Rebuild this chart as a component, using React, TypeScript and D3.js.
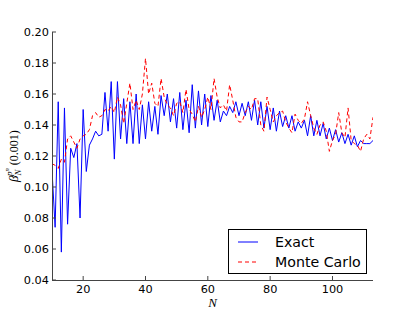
import React from "react";
import * as d3 from "d3";

// N runs 10..113, one value per N
const nValues = d3.range(10, 114);

const exact = [
  0.111, 0.074, 0.155, 0.058, 0.151, 0.076, 0.125, 0.119, 0.128, 0.080,
  0.150, 0.110, 0.127, 0.131, 0.136, 0.133, 0.134, 0.161, 0.136, 0.168,
  0.118, 0.168, 0.131, 0.157, 0.128, 0.155, 0.128, 0.160, 0.128, 0.153,
  0.131, 0.155, 0.136, 0.152, 0.134, 0.159, 0.146, 0.160, 0.142, 0.157,
  0.138, 0.161, 0.137, 0.156, 0.135, 0.166, 0.138, 0.162, 0.140, 0.160,
  0.139, 0.159, 0.143, 0.156, 0.142, 0.149, 0.146, 0.152, 0.148, 0.155,
  0.146, 0.154, 0.146, 0.155, 0.143, 0.156, 0.140, 0.155, 0.138, 0.152,
  0.137, 0.151, 0.136, 0.149, 0.139, 0.146, 0.138, 0.146, 0.136, 0.142,
  0.138, 0.143, 0.133, 0.146, 0.133, 0.143, 0.133, 0.141, 0.131, 0.138,
  0.130, 0.137, 0.129, 0.135, 0.128, 0.134, 0.127, 0.133, 0.126, 0.130,
  0.128, 0.128, 0.128, 0.130,
];

const monteCarlo = [
  0.115, 0.114, 0.112, 0.118, 0.116, 0.131, 0.133, 0.129, 0.125, 0.131,
  0.133, 0.134, 0.137, 0.146, 0.148, 0.145, 0.146, 0.150, 0.149, 0.152,
  0.148, 0.158, 0.153, 0.141, 0.154, 0.167, 0.150, 0.156, 0.150, 0.160,
  0.183, 0.160, 0.167, 0.154, 0.152, 0.170, 0.158, 0.153, 0.151, 0.146,
  0.154, 0.155, 0.148, 0.163, 0.150, 0.147, 0.142, 0.152, 0.145, 0.150,
  0.158, 0.150, 0.170, 0.158, 0.151, 0.153, 0.149, 0.166, 0.156, 0.145,
  0.142, 0.142, 0.148, 0.152, 0.150, 0.157, 0.157, 0.140, 0.136, 0.158,
  0.150, 0.142, 0.146, 0.148, 0.149, 0.142, 0.138, 0.135, 0.147, 0.143,
  0.141, 0.144, 0.155, 0.146, 0.138, 0.134, 0.140, 0.142, 0.136, 0.123,
  0.130, 0.134, 0.148, 0.135, 0.132, 0.151, 0.130, 0.128, 0.127, 0.123,
  0.131, 0.134, 0.131, 0.145,
];

const xTicks = [20, 40, 60, 80, 100];
const yTicks = [0.04, 0.06, 0.08, 0.1, 0.12, 0.14, 0.16, 0.18, 0.2];

const W = 415;
const H = 312;
const left = 52, right = 373, top = 32, bottom = 280;

export default function App() {
  const x = d3.scaleLinear().domain([10, 113]).range([left, right]);
  const y = d3.scaleLinear().domain([0.04, 0.2]).range([bottom, top]);

  const line = d3
    .line<number>()
    .x((_, i) => x(nValues[i]))
    .y((d) => y(d));

  const sans = "DejaVu Sans, sans-serif";
  const serif = "Liberation Serif, DejaVu Serif, serif";

  return (
    <svg
      width={W}
      height={H}
      style={{ position: "absolute", left: 0, top: 0, background: "#fff" }}
    >
      <defs>
        <clipPath id="plot">
          <rect x={left} y={top} width={right - left} height={bottom - top} />
        </clipPath>
      </defs>

      {/* series */}
      <g clipPath="url(#plot)">
        <path d={line(exact) || ""} fill="none" stroke="#0000ff" strokeWidth={1} />
        <path
          d={line(monteCarlo) || ""}
          fill="none"
          stroke="#ff0000"
          strokeWidth={1}
          strokeDasharray="4,3"
        />
      </g>

      {/* spines */}
      <line x1={left + 0.5} x2={left + 0.5} y1={top} y2={bottom} stroke="#444" />
      <line x1={left} x2={right} y1={bottom + 0.5} y2={bottom + 0.5} stroke="#444" />

      {/* y ticks */}
      {yTicks.map((t) => (
        <g key={t}>
          <line x1={left} x2={left + 4} y1={y(t)} y2={y(t)} stroke="#444" />
          <text
            x={left - 3}
            y={y(t) + 4}
            textAnchor="end"
            fontFamily={sans}
            fontSize={11.3}
          >
            {d3.format(".2f")(t)}
          </text>
        </g>
      ))}

      {/* x ticks */}
      {xTicks.map((t) => (
        <g key={t}>
          <line x1={x(t)} x2={x(t)} y1={bottom} y2={bottom - 4} stroke="#444" />
          <text x={x(t)} y={293} textAnchor="middle" fontFamily={sans} fontSize={11.3}>
            {t}
          </text>
        </g>
      ))}

      {/* axis labels */}
      <text
        x={(left + right) / 2}
        y={307}
        textAnchor="middle"
        fontFamily={serif}
        fontStyle="italic"
        fontSize={13}
      >
        N
      </text>
      <text
        transform={`translate(18,156) rotate(-90)`}
        textAnchor="middle"
        fontFamily={serif}
        fontSize={12}
        fill="#000"
      >
        <tspan fontStyle="italic" fontSize={13}>β</tspan>
        <tspan fontStyle="italic" fontSize={9} dy={3}>N</tspan>
        <tspan fontStyle="italic" fontSize={9} dx={-6.5} dy={-9}>p</tspan>
        <tspan fontStyle="italic" fontSize={6.5} dy={-3}>n</tspan>
        <tspan dy={9}> (0.001)</tspan>
      </text>

      {/* legend */}
      <g>
        <rect x={228.5} y={229.5} width={138} height={44} fill="#fff" stroke="#000" />
        <line x1={238} x2={258} y1={242} y2={242} stroke="#0000ff" />
        <line
          x1={238}
          x2={258}
          y1={262}
          y2={262}
          stroke="#ff0000"
          strokeDasharray="4,3"
        />
        <text x={275} y={246.5} fontFamily={sans} fontSize={14.2}>
          Exact
        </text>
        <text x={275} y={267} fontFamily={sans} fontSize={14.2}>
          Monte Carlo
        </text>
      </g>
    </svg>
  );
}
